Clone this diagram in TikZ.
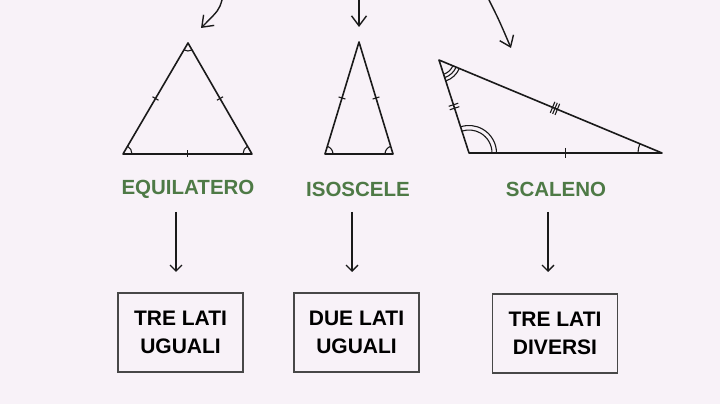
\documentclass[tikz,border=0pt]{standalone}
\usepackage{fontspec}
\setmainfont{Liberation Sans}
\usetikzlibrary{calc,arrows.meta}
\definecolor{bg}{HTML}{F8F2F8}
\definecolor{lblgreen}{HTML}{4E7A46}
\definecolor{ink}{HTML}{1A1A1A}
\begin{document}
\begin{tikzpicture}[x=1pt,y=1pt,
  line/.style={draw=ink,line width=1.6pt,line join=round},
  thin/.style={draw=ink,line width=1.1pt},
  arr/.style={draw=ink,line width=1.3pt,-{Straight Barb[length=6pt,width=12pt,line width=1.3pt]}},
  bigarr/.style={draw=ink,line width=1.4pt,-{Straight Barb[length=10pt,width=15pt,line width=1.4pt]}},
  lbl/.style={text=lblgreen,font=\fontsize{20.5}{24}\selectfont\bfseries,inner sep=0pt},
  box/.style={draw=ink!80,line width=1.2pt,minimum width=125pt,minimum height=79pt,align=center,font=\fontsize{21}{28}\selectfont\bfseries,text=black,inner sep=0pt}]
\fill[bg] (0,0) rectangle (720,404);
\useasboundingbox (0,0) rectangle (720,404);
% equilateral
\coordinate (ea) at (188,361);
\coordinate (eb) at (123,250);
\coordinate (ec) at (252,250);
\draw[line] (ea) -- (eb) -- (ec) -- cycle;
\draw[thin] ($(ea)!8pt!(eb)$) arc[start angle=239.6,end angle=300,radius=8pt];
\draw[thin] ($(eb)!9pt!(ec)$) arc[start angle=0,end angle=59.6,radius=9pt];
\draw[thin] ($(ec)!9pt!(ea)$) arc[start angle=120,end angle=180,radius=9pt];
\draw[thin] ($(ea)!0.5!(eb)!3.5pt!90:(eb)$) -- ($(ea)!0.5!(eb)!3.5pt!-90:(eb)$);
\draw[thin] ($(ea)!0.5!(ec)!3.5pt!90:(ec)$) -- ($(ea)!0.5!(ec)!3.5pt!-90:(ec)$);
\draw[thin] ($(eb)!0.5!(ec)!3.5pt!90:(ec)$) -- ($(eb)!0.5!(ec)!3.5pt!-90:(ec)$);
% isosceles
\coordinate (ia) at (359,362);
\coordinate (ib) at (325,250);
\coordinate (ic) at (393,250);
\draw[line] (ia) -- (ib) -- (ic) -- cycle;
\draw[thin] ($(ib)!8pt!(ic)$) arc[start angle=0,end angle=73.1,radius=8pt];
\draw[thin] ($(ic)!8pt!(ia)$) arc[start angle=106.9,end angle=180,radius=8pt];
\draw[thin] ($(ia)!0.5!(ib)!3.5pt!90:(ib)$) -- ($(ia)!0.5!(ib)!3.5pt!-90:(ib)$);
\draw[thin] ($(ia)!0.5!(ic)!3.5pt!90:(ic)$) -- ($(ia)!0.5!(ic)!3.5pt!-90:(ic)$);
% scalene
\coordinate (sp) at (439,344);
\coordinate (sq) at (469,251);
\coordinate (sr) at (662,251);
\draw[line] (sp) -- (sq) -- (sr) -- cycle;
\foreach \r in {15,18.5,22}{
  \draw[thin] ($(sp)!\r pt!(sq)$) arc[start angle=-72.1,end angle=-22.6,radius=\r pt];
}
\foreach \r in {23,27.5}{
  \draw[thin] ($(sq)!\r pt!(sr)$) arc[start angle=0,end angle=107.9,radius=\r pt];
}
\draw[thin] ($(sr)!24pt!(sp)$) arc[start angle=157.4,end angle=180,radius=24pt];
\coordinate (mpq) at ($(sp)!0.5!(sq)$);
\coordinate (mpr) at ($(sp)!0.52!(sr)$);
\draw[thin] ($(sq)!0.5!(sr)!5pt!90:(sr)$) -- ($(sq)!0.5!(sr)!5pt!-90:(sr)$);
\foreach \d in {-1.8,1.8}{
  \draw[thin] ($(mpq)!\d pt!(sq)!5pt!90:(sq)$) -- ($(mpq)!\d pt!(sq)!5pt!-90:(sq)$);
}
\foreach \d in {-2.6,0,2.6}{
  \draw[thin] ($(mpr)!\d pt!(sr)!6pt!90:(sr)$) -- ($(mpr)!\d pt!(sr)!6pt!-90:(sr)$);
}
% top arrows
\coordinate (t1) at (222,404);
\coordinate (t2) at (359,404);
\coordinate (t3) at (489,404);
\coordinate (h1) at (201,376);
\coordinate (h2) at (359,377);
\coordinate (h3) at (511,356);
\draw[bigarr] (t1) .. controls (219,394) .. (h1);
\draw[bigarr] (t2) -- (h2);
\draw[bigarr] (t3) .. controls (499,384) .. (h3);
% labels
\node[lbl] (l1) at (188,215) {EQUILATERO};
\node[lbl] (l2) at (358,215) {ISOSCELE};
\node[lbl] (l3) at (556,215) {SCALENO};
% boxes
\node[box] (b1) at (180.5,71.5) {TRE LATI\\UGUALI};
\node[box] (b2) at (356.5,71.5) {DUE LATI\\UGUALI};
\node[box] (b3) at (555,70.5) {TRE LATI\\DIVERSI};
% down arrows
\coordinate (d1) at (176,192);
\coordinate (d2) at (352,192);
\coordinate (d3) at (548,192);
\coordinate (e1) at (176,132);
\coordinate (e2) at (352,132);
\coordinate (e3) at (548,132);
\draw[arr] (d1) -- (e1);
\draw[arr] (d2) -- (e2);
\draw[arr] (d3) -- (e3);
\end{tikzpicture}
\end{document}
